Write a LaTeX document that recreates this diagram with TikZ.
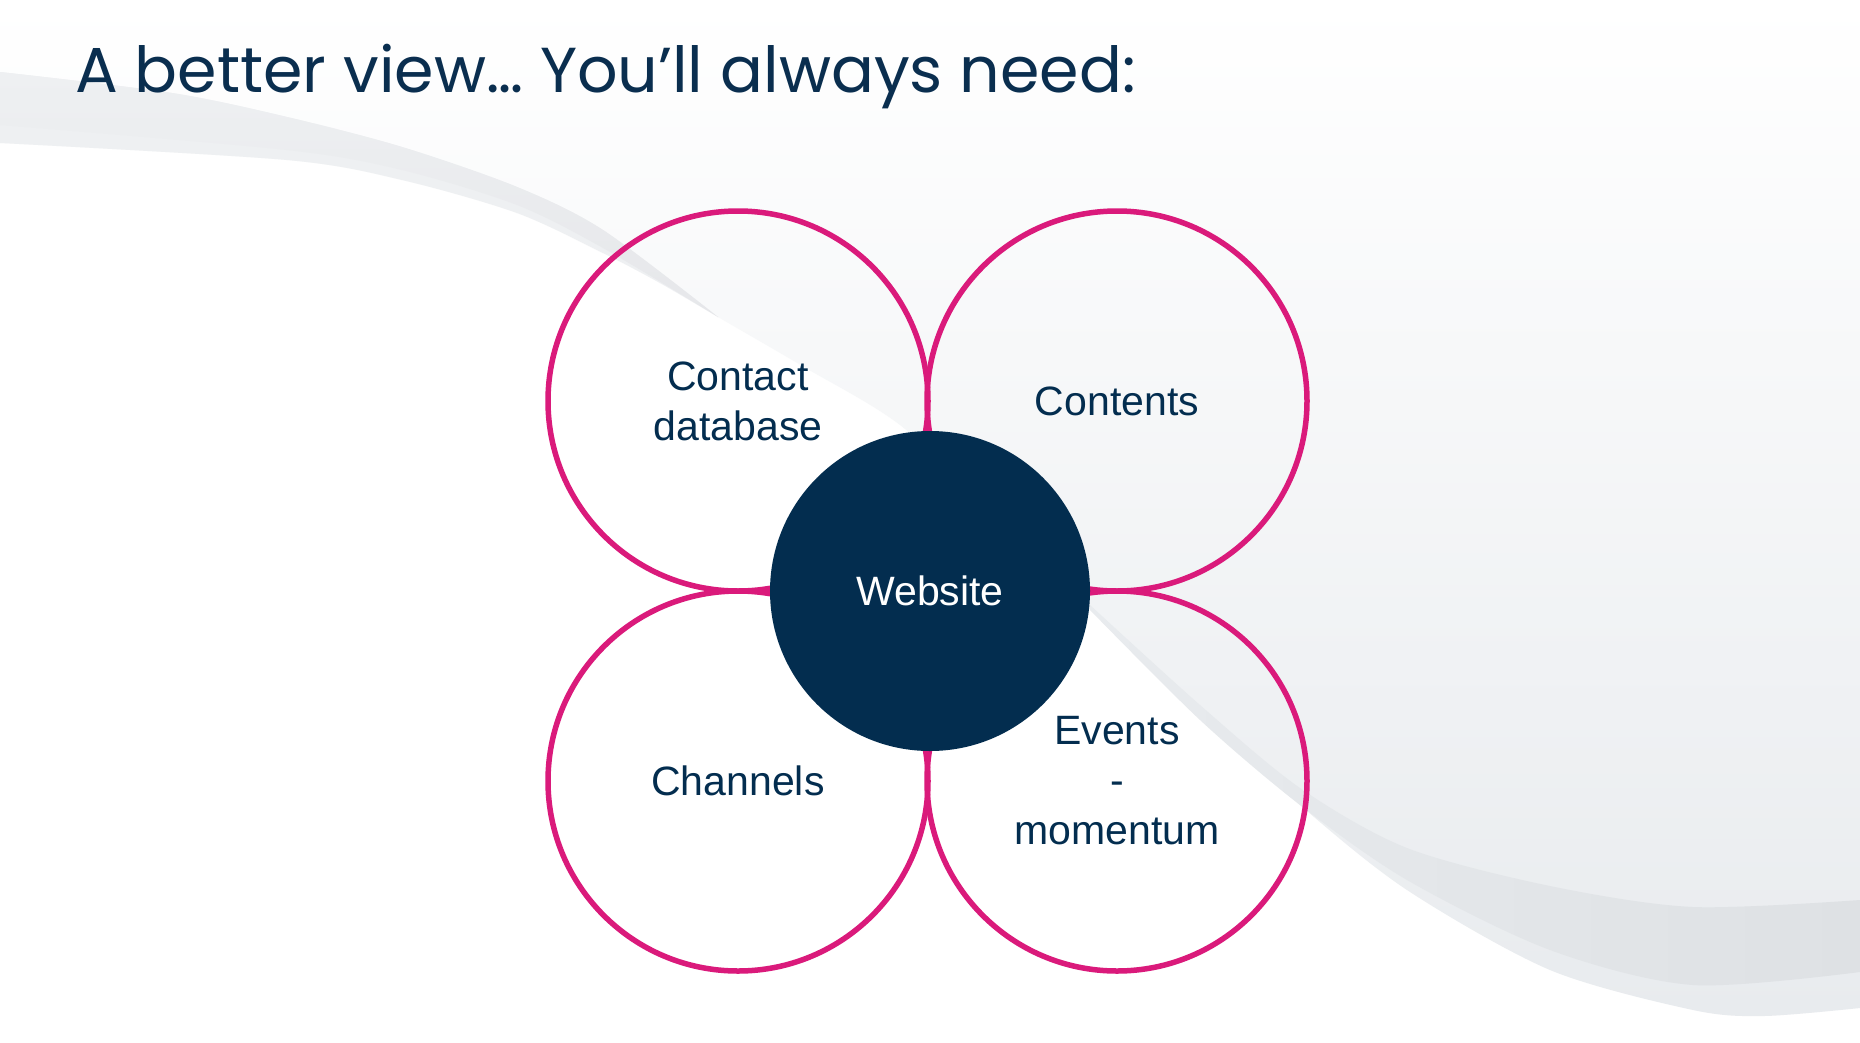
\documentclass[tikz,border=0pt]{standalone}
\usepackage{fontspec}
\setmainfont{Liberation Sans}
\newfontfamily\titlefont{Poppins}
\definecolor{navy}{HTML}{032D4F}
\definecolor{titleblue}{HTML}{0A2E4F}
\definecolor{pinkline}{HTML}{DA1A7B}
\definecolor{bgtop}{HTML}{FFFFFF}
\definecolor{bgmid}{HTML}{F2F3F5}
\definecolor{bgbot}{HTML}{E8EBEE}
\definecolor{bandul}{HTML}{E6E7EA}
\definecolor{stripul}{HTML}{EEF0F2}
\definecolor{bandlr}{HTML}{DEE1E4}
\tikzset{
  petal/.style={circle, draw=pinkline, line width=5.5pt, inner sep=0pt,
    minimum size=380pt, text=navy, align=center,
    font=\fontsize{41}{50}\selectfont},
  hub/.style={circle, fill=navy, draw=none, inner sep=0pt,
    minimum size=320pt, text=white, font=\fontsize{41}{50}\selectfont},
  titletext/.style={anchor=base west, inner sep=0pt, text=titleblue,
    font=\titlefont\fontsize{63.5}{70}\selectfont}
}
\begin{document}
\begin{tikzpicture}[x=1pt,y=-1pt]
\useasboundingbox (0,0) rectangle (1860,1042);
\fill[white] (0,0) rectangle (1860,1042);
% main light swoosh region
\shade[top color=bgtop, middle color=bgmid, bottom color=bgbot]
  plot[smooth] coordinates {(0,143) (287,160) (402,180) (517,213) (603,253) (660,283) (718,317) (804,367) (900,425) (1000,518) (1090,608) (1180,695) (1300,805) (1407,890) (1550,970) (1693,1010) (1764,1016) (1860,1008)}
  -- (1860,0) -- (0,0) -- cycle;
% upper-left light strip
\fill[stripul]
  plot[smooth] coordinates {(0,72) (172,93) (287,117) (402,147) (517,187) (603,230) (718,317)}
  -- plot[smooth] coordinates {(718,317) (660,283) (603,253) (517,213) (402,180) (287,160) (0,143)} -- cycle;
% upper-left darker band
\shade[top color=stripul, bottom color=bandul]
  plot[smooth] coordinates {(0,72) (172,93) (287,117) (402,147) (517,187) (603,230) (718,317)}
  -- plot[smooth] coordinates {(718,317) (603,248) (517,205) (402,170) (287,150) (0,125)} -- cycle;
% lower-right darker band
\shade[left color=bgbot, right color=bandlr]
  plot[smooth] coordinates {(1090,605) (1200,705) (1300,788) (1407,848) (1550,886) (1693,907) (1860,900)}
  -- plot[smooth] coordinates {(1860,972) (1693,985) (1550,950) (1407,880) (1300,805) (1200,720) (1090,610)} -- cycle;
% title
\node[titletext] (title) at (75,92) {A better view\ldots{} You’ll always need:};
% petals
\node[petal] (contact) at (738,401) {Contact\\database};
\node[petal] (contents) at (1117,401) {Contents};
\node[petal] (channels) at (738,781) {Channels};
\node[petal] (events) at (1117,781) {Events\\-\\momentum};
% hub
\node[hub] (website) at (930,591) {Website};
\end{tikzpicture}
\end{document}
